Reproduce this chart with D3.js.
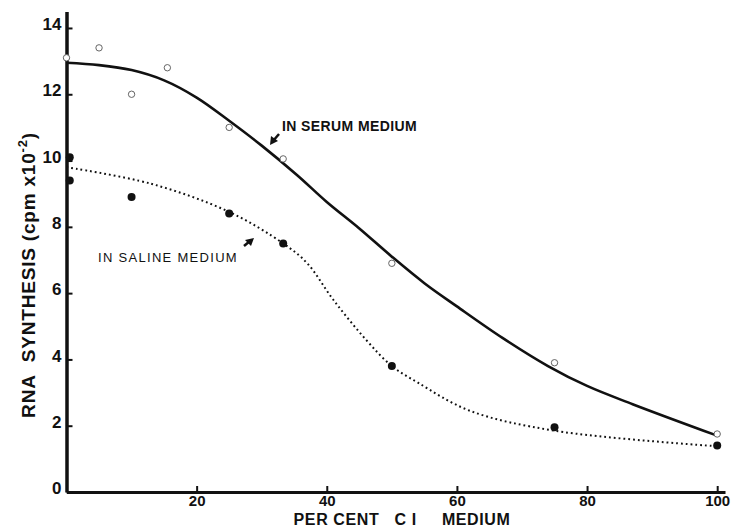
<!DOCTYPE html>
<html>
<head>
<meta charset="utf-8">
<script src="https://cdn.jsdelivr.net/npm/d3@7"></script>
<style>
  body { margin: 0; background: #fff; }
  svg { display: block; }
  .tick text { font-family: "Liberation Sans Narrow", "Liberation Sans", Arial, sans-serif; font-weight: bold; fill: #111; }
  .lbl { font-family: "Liberation Sans", Arial, sans-serif; font-weight: bold; fill: #111; }
</style>
</head>
<body>
<div id="chart"></div>
<script>
/////////////////////////////////////////////////////////
// RNA synthesis vs percent CI medium
/////////////////////////////////////////////////////////

// measured points, serum medium (open circles)
var serumX = [0, 5, 10, 15.5, 25, 33.3, 50, 75, 100]
var serumY = [13.1, 13.4, 12.0, 12.8, 11.0, 10.05, 6.9, 3.9, 1.75]

// measured points, saline medium (filled circles)
var salineX = [0.5, 0.5, 10, 25, 33.3, 50, 75, 100]
var salineY = [10.1, 9.4, 8.9, 8.4, 7.5, 3.8, 1.95, 1.4]

// hand drawn curves through them
var serumCurveX = [0, 5, 10, 15, 20, 25, 30, 35.5, 40, 45, 50, 55, 60, 67, 74, 80, 87, 100]
var serumCurveY = [12.95, 12.88, 12.73, 12.42, 11.9, 11.2, 10.45, 9.55, 8.75, 7.95, 7.1, 6.3, 5.6, 4.65, 3.8, 3.2, 2.65, 1.7]

var salineCurveX = [0, 13, 25, 33.3, 37, 41, 46, 50, 54, 62, 75, 100]
var salineCurveY = [9.8, 9.3, 8.45, 7.5, 6.9, 5.8, 4.6, 3.8, 3.3, 2.45, 1.85, 1.38]

var xTicks = [20, 40, 60, 80, 100]
var yTicks = [0, 2, 4, 6, 8, 10, 12, 14]

var W = 733, H = 527

var svg = d3.select("#chart").append("svg")
    .attr("width", W)
    .attr("height", H)

var x = d3.scaleLinear().domain([0, 101.2]).range([66.5, 725])
var y = d3.scaleLinear().domain([0, 14.5]).range([492, 11.4])

// x axis
svg.append("g")
    .attr("transform", "translate(0," + y(0) + ")")
    .call(d3.axisBottom(x).tickValues(xTicks).tickSizeInner(-6).tickSizeOuter(0).tickPadding(3))
    .call(function (g) {
      g.select(".domain").attr("stroke", "#111").attr("stroke-width", 3)
      g.selectAll(".tick line").attr("stroke", "#111").attr("stroke-width", 2)
      g.selectAll(".tick text").style("font-size", "15px")
    })

// y axis
svg.append("g")
    .attr("transform", "translate(" + x(0) + ",0)")
    .call(d3.axisLeft(y).tickValues(yTicks).tickSizeInner(-6).tickSizeOuter(0).tickPadding(5))
    .call(function (g) {
      g.select(".domain").attr("stroke", "#111").attr("stroke-width", 3.5)
      g.selectAll(".tick line").attr("stroke", "#111").attr("stroke-width", 2)
      g.selectAll(".tick text").style("font-size", "17px").attr("dy", "0.1em")
    })

// curves
var line = d3.line()
    .x(function (d) { return x(d[0]) })
    .y(function (d) { return y(d[1]) })
    .curve(d3.curveCatmullRom.alpha(0.5))

svg.append("path")
    .datum(d3.zip(serumCurveX, serumCurveY))
    .attr("d", line)
    .attr("fill", "none")
    .attr("stroke", "#111")
    .attr("stroke-width", 2.6)

svg.append("path")
    .datum(d3.zip(salineCurveX, salineCurveY))
    .attr("d", line)
    .attr("fill", "none")
    .attr("stroke", "#111")
    .attr("stroke-width", 2)
    .attr("stroke-dasharray", "1.8,3")

// points
svg.selectAll(".serum")
    .data(d3.zip(serumX, serumY))
  .enter().append("circle")
    .attr("class", "serum")
    .attr("cx", function (d) { return x(d[0]) })
    .attr("cy", function (d) { return y(d[1]) })
    .attr("r", 3.2)
    .attr("fill", "#fff")
    .attr("stroke", "#555")
    .attr("stroke-width", 0.9)

svg.selectAll(".saline")
    .data(d3.zip(salineX, salineY))
  .enter().append("circle")
    .attr("class", "saline")
    .attr("cx", function (d) { return x(d[0]) })
    .attr("cy", function (d) { return y(d[1]) })
    .attr("r", 4)
    .attr("fill", "#111")

// annotations
svg.append("text")
    .attr("class", "lbl")
    .attr("x", 282)
    .attr("y", 131)
    .style("font-size", "14px")
    .style("letter-spacing", "0.4px")
    .text("IN SERUM MEDIUM")

svg.append("line")
    .attr("x1", 279).attr("y1", 134)
    .attr("x2", 273).attr("y2", 141)
    .attr("stroke", "#111").attr("stroke-width", 2.5)
svg.append("path")
    .attr("d", "M270,145 L271,136 L278,141 Z")
    .attr("fill", "#111")

svg.append("text")
    .attr("class", "lbl")
    .attr("x", 98)
    .attr("y", 262)
    .style("font-size", "13px")
    .style("font-weight", "normal")
    .style("letter-spacing", "1.3px")
    .text("IN SALINE  MEDIUM")

svg.append("line")
    .attr("x1", 244).attr("y1", 246)
    .attr("x2", 250).attr("y2", 241)
    .attr("stroke", "#111").attr("stroke-width", 2.5)
svg.append("path")
    .attr("d", "M254,238 L245,240 L251,246 Z")
    .attr("fill", "#111")

// axis titles
svg.append("text")
    .attr("class", "lbl")
    .attr("transform", "translate(35,275) rotate(-90)")
    .attr("text-anchor", "middle")
    .style("font-size", "19px")
    .style("letter-spacing", "0.8px")
    .html("RNA&#160;&#160;SYNTHESIS (cpm x10<tspan dy='-8' font-size='13px'>-2</tspan><tspan dy='8'>)</tspan>")

svg.append("text")
    .attr("class", "lbl")
    .attr("x", 402)
    .attr("y", 525)
    .attr("text-anchor", "middle")
    .style("font-size", "16px")
    .style("font-family", "'Liberation Sans Narrow', 'Liberation Sans', Arial, sans-serif")
    .style("letter-spacing", "0.6px")
    .attr("xml:space", "preserve")
    .text("PER CENT   C I     MEDIUM")
</script>
</body>
</html>
